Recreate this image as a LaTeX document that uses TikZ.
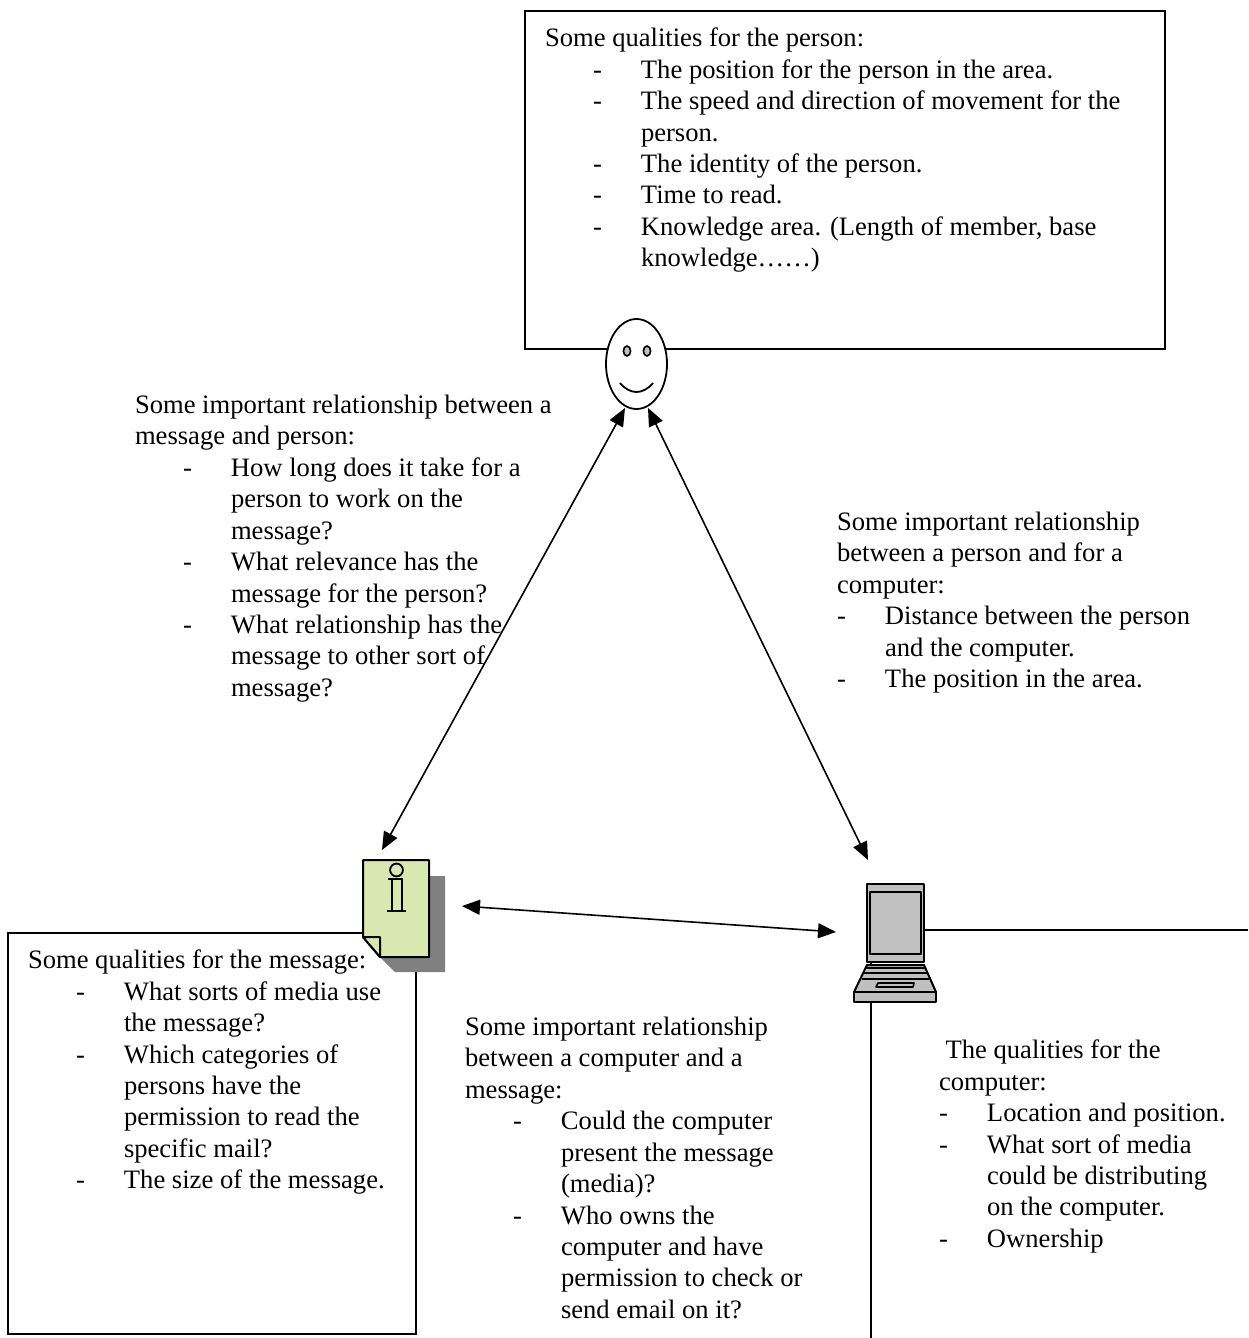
\documentclass[tikz,border=0pt]{standalone}
\usepackage{fontspec}
\setmainfont{Liberation Serif}
\usetikzlibrary{arrows.meta,shapes.geometric}
\definecolor{noteGreen}{HTML}{D9E8B0}
\definecolor{noteShadow}{HTML}{808080}
\definecolor{laptopGray}{HTML}{C0C0C0}
\newcommand{\dashline}[2]{\hspace*{#1}\makebox[24pt][l]{-}#2}
\begin{document}
\begin{tikzpicture}
[x=0.5pt,y=-0.5pt,
  arrowDecorate/.style={{Stealth[length=9pt,width=7.5pt,inset=0pt]}-{Stealth[length=9pt,width=7.5pt,inset=0pt]},line width=0.8pt},%
  boxDecorate/.style={draw,line width=0.75pt},%
  textDecorate/.style={anchor=north west,inner sep=0pt,outer sep=0pt,align=left,font=\fontsize{13.3}{15.72}\selectfont},%
  iconLine/.style={draw,line width=1pt,line join=round}]
\useasboundingbox (0,0) rectangle (1248,1338);
%% boxes behind the icons
\node (personbox) at (845,180) [boxDecorate,minimum width=320pt,minimum height=169pt] {};
\node (messagebox) at (212,1133.5) [boxDecorate,minimum width=204pt,minimum height=200.5pt] {};
\draw[line width=0.75pt] (1248,930) -- (871,930) -- (871,1338);
%% texts
\node (persontext) at (545,28) [textDecorate] {Some qualities for the person:\\
\dashline{24pt}{The position for the person in the area.}\\
\dashline{24pt}{The speed and direction of movement for the}\\
\hspace*{48pt}person.\\
\dashline{24pt}{The identity of the person.}\\
\dashline{24pt}{Time to read.}\\
\dashline{24pt}{Knowledge area. (Length of member, base}\\
\hspace*{48pt}knowledge……)};
\node (relationleft) at (135,395) [textDecorate] {Some important relationship between a\\
message and person:\\
\dashline{24pt}{How long does it take for a}\\
\hspace*{48pt}person to work on the\\
\hspace*{48pt}message?\\
\dashline{24pt}{What relevance has the}\\
\hspace*{48pt}message for the person?\\
\dashline{24pt}{What relationship has the}\\
\hspace*{48pt}message to other sort of\\
\hspace*{48pt}message?};
\node (relationright) at (837,512) [textDecorate] {Some important relationship\\
between a person and for a\\
computer:\\
\dashline{0pt}{Distance between the person}\\
\hspace*{24pt}and the computer.\\
\dashline{0pt}{The position in the area.}};
\node (messagetext) at (28,950) [textDecorate] {Some qualities for the message:\\
\dashline{24pt}{What sorts of media use}\\
\hspace*{48pt}the message?\\
\dashline{24pt}{Which categories of}\\
\hspace*{48pt}persons have the\\
\hspace*{48pt}permission to read the\\
\hspace*{48pt}specific mail?\\
\dashline{24pt}{The size of the message.}};
\node (relationbottom) at (465,1017) [textDecorate] {Some important relationship\\
between a computer and a\\
message:\\
\dashline{24pt}{Could the computer}\\
\hspace*{48pt}present the message\\
\hspace*{48pt}(media)?\\
\dashline{24pt}{Who owns the}\\
\hspace*{48pt}computer and have\\
\hspace*{48pt}permission to check or\\
\hspace*{48pt}send email on it?};
\node (computertext) at (939,1040) [textDecorate] {\hspace*{3.3pt}The qualities for the\\
computer:\\
\dashline{0pt}{Location and position.}\\
\dashline{0pt}{What sort of media}\\
\hspace*{24pt}could be distributing\\
\hspace*{24pt}on the computer.\\
\dashline{0pt}{Ownership}};
%% person
\node (person) at (636.5,364) [ellipse,draw,fill=white,line width=0.9pt,inner sep=0pt,minimum width=30.5pt,minimum height=45pt] {};
\foreach \eyename/\x in {lefteye/627, righteye/647}
{
  \node (\eyename) at (\x,351) [ellipse,draw,fill=laptopGray,line width=0.8pt,inner sep=0pt,minimum width=3.6pt,minimum height=5pt] {};
}
\draw[line width=0.9pt] (620,383) .. controls (630,395) and (643,395) .. (653,383);
%% message note
\fill[noteShadow] (429,876) -- (445,876) -- (445,972) -- (395,972) -- (380,957) -- (429,957) -- cycle;
\path[iconLine,fill=noteGreen] (363,860) -- (429,860) -- (429,957) -- (380,957) -- (363,937) -- cycle;
\path[iconLine,fill=noteGreen] (363,937) -- (380,937) -- (380,957) -- cycle;
\node (message) at (396.5,870) [circle,draw,line width=0.9pt,inner sep=0pt,minimum size=6.4pt] {};
\draw[line width=0.9pt] (388,879) -- (402,879) -- (402,911);
\draw[line width=0.9pt] (392,879) -- (392,911);
\draw[line width=1.4pt] (387,911) -- (406,911);
%% computer
\path[iconLine,fill=laptopGray] (867,884) rectangle (924,962);
\path[iconLine,fill=laptopGray] (870,892) rectangle (921,954);
\path[iconLine,fill=laptopGray] (867,965) -- (924,965) -- (936,992) -- (854,992) -- cycle;
\foreach \y/\xa/\xb in {968/866/925, 973/864/927, 979/862/929}
{
  \draw[line width=1.3pt] (\xa,\y) -- (\xb,\y);
}
\path[iconLine,fill=laptopGray,line width=0.8pt] (878,983) -- (914,983) -- (913,987) -- (876,987) -- cycle;
\path[iconLine,fill=laptopGray] (854,992) rectangle (936,1002);
\node (computer) at (895,943) [inner sep=0pt] {};
%% arrow ends
\coordinate (personleft) at (625,408);
\coordinate (personright) at (648,408);
\coordinate (messagetop) at (382,850);
\coordinate (messageside) at (462,906);
\coordinate (computertop) at (868,860);
\coordinate (computerside) at (836,932);
%% edges or lines
\path
(personleft) edge[arrowDecorate] (messagetop)
(personright) edge[arrowDecorate] (computertop)
(messageside) edge[arrowDecorate] (computerside);
\end{tikzpicture}
\end{document}
